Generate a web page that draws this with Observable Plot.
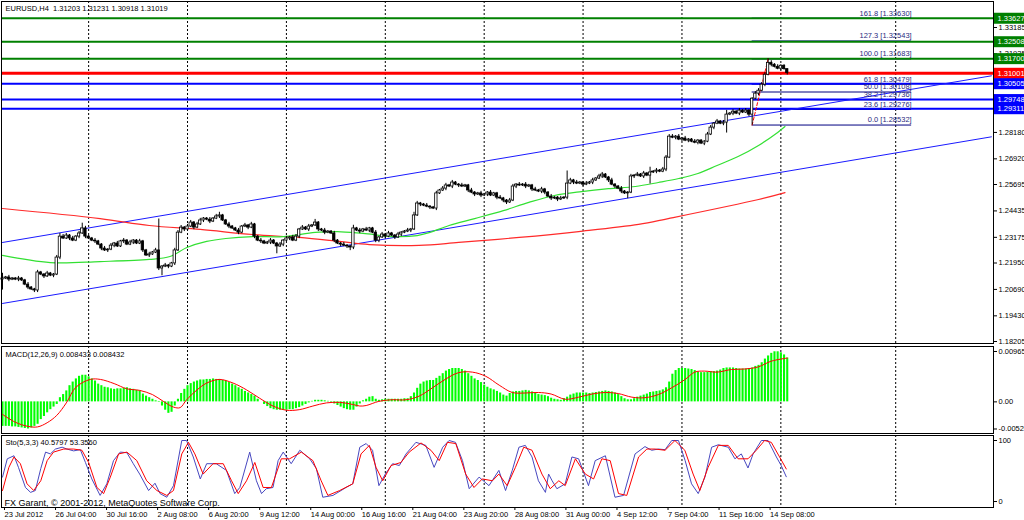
<!DOCTYPE html>
<html><head><meta charset="utf-8">
<script src="https://cdn.jsdelivr.net/npm/d3@7"></script>
<script src="https://cdn.jsdelivr.net/npm/@observablehq/plot@0.6"></script>
<style>
body{margin:0;background:#fff;}
#chart{position:relative;width:1024px;height:520px;overflow:hidden;background:#fff;}
</style></head><body><div id="chart"></div>
<script>
// ---------- DATA ----------
const title = "EURUSD,H4  1.31203 1.31231 1.30918 1.31019";
const macdTitle = "MACD(12,26,9) 0.008433 0.008432";
const stoTitle = "Sto(5,3,3) 40.5797 53.3560";
const copyright = "FX Garant, \u00a9 2001-2012, MetaQuotes Software Corp.";

const tickIdx = [0,16,32,48,64,80,96,112,128,144,160,176,192,208,224,240];
const tickLabels = ["23 Jul 2012","26 Jul 04:00","30 Jul 16:00","2 Aug 08:00","6 Aug 20:00","9 Aug 12:00","14 Aug 00:00","16 Aug 16:00","21 Aug 04:00","23 Aug 20:00","28 Aug 08:00","31 Aug 00:00","4 Sep 12:00","7 Sep 04:00","11 Sep 16:00","14 Sep 08:00"];
const gridIdx = [27,58,89,120,151,182,213,244,280];

const priceTicks = [1.18205,1.19430,1.20690,1.21950,1.23175,1.24435,1.25695,1.26920,1.28180,1.29440,1.30690,1.31935,1.33185];
const macdTicks = [0.009654,0,-0.0052];
const macdTickLabels = ["0.009654","0.00","-0.00520"];
const stoTicks = [100,0];

const firstOpen = 1.2116;
const closes = [
1.2121,1.2126,1.2116,1.2121,1.2116,1.2121,1.2112,1.2092,1.2078,1.2069,
1.2064,1.2150,1.2140,1.2131,1.2145,1.2135,1.2140,1.2221,1.2321,1.2312,
1.2326,1.2312,1.2302,1.2321,1.2336,1.2360,1.2321,1.2312,1.2302,1.2298,
1.2283,1.2264,1.2255,1.2259,1.2278,1.2288,1.2274,1.2298,1.2302,1.2283,
1.2293,1.2302,1.2288,1.2298,1.2255,1.2231,1.2236,1.2245,1.2255,1.2169,
1.2178,1.2183,1.2178,1.2193,1.2255,1.2340,1.2364,1.2355,1.2369,1.2388,
1.2364,1.2379,1.2398,1.2407,1.2402,1.2393,1.2407,1.2417,1.2422,1.2398,
1.2379,1.2369,1.2360,1.2350,1.2340,1.2369,1.2374,1.2364,1.2379,1.2321,
1.2302,1.2298,1.2288,1.2293,1.2302,1.2288,1.2274,1.2283,1.2302,1.2312,
1.2317,1.2302,1.2321,1.2355,1.2364,1.2355,1.2369,1.2374,1.2388,1.2355,
1.2350,1.2340,1.2345,1.2336,1.2302,1.2288,1.2283,1.2278,1.2274,1.2269,
1.2360,1.2350,1.2345,1.2355,1.2350,1.2360,1.2340,1.2302,1.2317,1.2331,
1.2321,1.2336,1.2326,1.2317,1.2331,1.2340,1.2345,1.2350,1.2355,1.2422,
1.2479,1.2474,1.2469,1.2464,1.2460,1.2455,1.2527,1.2541,1.2550,1.2565,
1.2560,1.2579,1.2569,1.2565,1.2560,1.2565,1.2541,1.2531,1.2522,1.2527,
1.2517,1.2522,1.2531,1.2517,1.2527,1.2507,1.2503,1.2493,1.2484,1.2493,
1.2560,1.2569,1.2565,1.2569,1.2560,1.2565,1.2546,1.2541,1.2536,1.2546,
1.2531,1.2512,1.2503,1.2507,1.2498,1.2503,1.2507,1.2574,1.2589,1.2579,
1.2574,1.2579,1.2569,1.2574,1.2579,1.2589,1.2598,1.2608,1.2617,1.2603,
1.2589,1.2569,1.2560,1.2550,1.2536,1.2527,1.2531,1.2608,1.2612,1.2617,
1.2608,1.2622,1.2612,1.2627,1.2631,1.2636,1.2631,1.2641,1.2698,1.2798,
1.2793,1.2798,1.2784,1.2789,1.2779,1.2784,1.2774,1.2769,1.2779,1.2765,
1.2774,1.2808,1.2841,1.2860,1.2870,1.2860,1.2865,1.2903,1.2908,1.2917,
1.2908,1.2922,1.2913,1.2922,1.2903,1.2979,1.3003,1.3017,1.3046,1.3093,
1.3150,1.3141,1.3131,1.3122,1.3136,1.3120,1.3102];
// wick lengths above / below the body, base-36 digits in units of WICK_UNIT
const WICK_UNIT = 0.0005;
const upWick = ["5121121121","1211211232","2121252112","1121212121","211211212u","1211222122","1221121231","1211212121","1211211212","1221212131","1211211211","3121211212","1211211213","2112112122","1211211211","2112112112","2121211212","1121121c21","2112121221","1211211212","1215121222","2121211211","1221212412","1212112222","4212110"].join("");
const downWick = ["a121121121","2212112121","1211212112","1212121121","1211212112","7121211211","2112121121","1211211212","1211217121","2112112112","1211212123","2121121221","2112121121","1211212112","1212112121","2121121221","1211212112","2121211212","1121121121","2121215121","1218121121","1212121121","2112112a12","12112a1212","1211212"].join("");

// moving averages (bar index, price)
const maFastIdx = [0,15,30.6,46,52.5,57.8,64,70,78.5,88,98,105,113,123,130,134,140,148,157,165,173,181.5,190,198.4,205.6,212,218,224,230.6,237,243,245.3];
const maFastVal = [1.2231,1.2197,1.2202,1.2212,1.2226,1.2269,1.2298,1.2312,1.2321,1.2321,1.2341,1.2345,1.2336,1.2321,1.2326,1.2341,1.2374,1.2407,1.2445,1.2484,1.2517,1.2536,1.2550,1.2560,1.2579,1.2598,1.2622,1.2660,1.2703,1.2756,1.2818,1.2846];
const maSlowIdx = [0,30.6,46,62,78.4,93,105.6,115,130.6,143,162,180.6,199.4,208.7,237,245.3];
const maSlowVal = [1.2455,1.2407,1.2374,1.2355,1.2331,1.2317,1.2298,1.2283,1.2279,1.2293,1.2317,1.2345,1.2379,1.2407,1.2498,1.2531];

// channel lines
const channelIdx = [0,310];
const channelUpper = [1.2293,1.3088];
const channelLower = [1.2002,1.2797];

// horizontal levels
const greenLevels = [1.33627,1.32508,1.31700];
const redLevels = [1.31001];
const blueLevels = [1.30505,1.29748,1.29311];

// fibonacci
const fibPct = ["0.0","23.6","38.2","50.0","61.8","100.0","127.3","161.8"];
const fibVal = [1.28532,1.29276,1.29736,1.30108,1.30479,1.31683,1.32543,1.33630];
const FIB_FROM = 235, FIB_TO = 285, FIB_HIGH_IDX = 240;

// MACD histogram (x1e-4)
const macdHist = [
-47,-47,-47,-48,-48,-49,-50,-51,-52,-50,
-47,-43,-34,-28,-21,-15,-10,-5,8,14,
21,31,38,44,49,51,51,48,44,40,
34,31,28,27,25,24,25,25,26,27,
25,24,22,21,15,11,8,5,2,-1,
-8,-16,-22,-20,-8,5,16,24,31,35,
38,40,42,42,43,43,44,43,43,41,
40,37,34,31,27,24,20,17,14,11,
5,0,-5,-9,-13,-15,-16,-16,-16,-16,
-15,-15,-13,-11,-8,-5,-2,1,3,3,
3,2,1,-1,-4,-7,-10,-13,-15,-16,
-16,-10,-4,2,5,9,10,5,3,4,
5,5,5,5,5,5,6,6,10,17,
26,34,38,40,41,41,45,49,54,59,
62,64,64,64,62,59,54,49,44,41,
37,32,28,25,23,20,17,13,11,16,
19,20,20,21,22,21,19,17,14,13,
12,10,7,5,4,3,6,9,13,15,
17,17,17,17,16,17,18,19,20,21,
20,19,17,14,10,6,4,4,6,9,
11,13,15,18,19,20,21,23,27,38,
53,60,64,64,64,63,62,60,57,56,
56,57,58,58,59,61,64,65,65,65,
64,63,63,63,64,65,68,70,75,82,
88,93,96,96,94,90,84];
// MACD signal (index, x1e-4)
const sigIdx = [0,4,8,11,14,17,20,23,27.5,30.7,35,39,43,47,50.4,53.6,55.7,57.7,61,64,68,72.3,76.5,80.6,84.8,89,93,97.3,101.5,105.7,109.8,112,114,118,122,126.5,130.6,134.8,139,143,147.3,151.5,155.7,159.8,164,168,172,176.4,180.6,184.8,189,193,197.3,201.4,205.6,209.8,214,217,220,224,228.5,232.7,236.9,241,246];
const sigVal = [-24,-39,-47,-48,-40,-26,-2,28,43,43,35,25,22,14,1,-10,-11,4,23,36,43,36,23,7,-8,-16,-15,-8,-2,-1,-5,-8,-7,1,4,4,11,27,44,56,57,49,32,18,17,18,15,5,9,15,18,16,9,8,14,27,43,57,59,57,62,63,67,78,84];

// Stochastic %K and %D
const kIdx = [0,1.5,3.6,5,7.2,8.8,10.3,12,13.5,15,16.6,18.7,20.2,22.3,24.4,26,28,30.6,32.7,34.8,36.9,39,41,43,45.8,47.8,49.4,51.5,53.6,56.2,57.7,59.8,62,64,67,70.2,72.8,74.4,77.5,79.6,81.2,82.7,84.8,86.4,88,90.5,93.2,96.3,98.4,100.4,103.6,107.7,109.8,112,114,116,118,120,122.3,124.4,126.5,129.6,132.7,135.3,138,140,142,144.2,146.3,149.4,152.5,155.6,157.7,159.8,161.9,163.9,166,168,170.2,171.2,172.3,173.8,176.4,178.5,180.6,183.7,185.8,189,192,194.7,198.3,201.4,203.5,205.6,207.7,209.8,211.9,214,216,218.1,220.2,222.3,224.4,227.5,229.6,231.6,233.7,235.3,237.9,240,242.6,244.1,245.7];
const kVal = [40,70,75,56,23,15,18,54,81,78,86,89,86,83,85,64,37,10,29,67,81,80,62,45,18,30,13,7,26,100,100,73,37,62,62,51,13,23,81,34,13,21,23,67,81,62,84,70,54,7,10,23,29,89,95,84,26,45,62,59,78,97,92,56,89,100,97,67,21,40,26,51,18,51,89,92,73,34,15,45,34,21,29,73,70,26,67,75,7,10,78,90,84,86,85,100,100,67,29,13,40,89,93,89,70,78,55,78,100,100,73,59,40.58];
const dIdx = [0,2,3.6,5.6,7.7,9.8,12,14,16,19.2,22.3,24.9,27,29.6,31.7,33.8,36.4,39,42.1,45.2,48.4,51.5,53.6,56.2,58.3,60.3,62.9,66,69.2,71.8,73.9,76.5,79.1,81.7,84.3,87.4,90,93.7,97.3,99.9,102,105.7,109.8,112.4,115,117.1,119.2,121.8,124.9,127.5,131.2,134.3,136.9,139.5,142.1,145.2,147.8,150.4,153.6,155.6,158.2,160.8,163.4,166,169.1,171.7,174.4,176.4,179.6,182.7,185.3,187.9,190.5,193.1,195.7,199.4,202,204.6,207.7,210.8,213.9,216.5,218.6,221.2,224.4,227.5,230.6,233.7,236.3,238.9,241,243.6,245.7];
const dVal = [18,56,73,62,29,18,34,67,81,86,86,84,64,23,13,40,78,81,67,34,18,10,18,78,97,78,45,62,62,34,13,34,64,23,23,70,70,81,67,34,10,18,29,78,92,56,34,59,64,81,96,84,67,97,95,45,23,37,34,45,26,56,89,84,45,21,34,26,70,45,37,70,67,13,10,73,86,86,84,100,84,45,18,56,92,92,70,70,84,100,97,73,53.36];

// ---------- LAYOUT CONSTANTS ----------
const X_MIN = -0.313, X_MAX = 310.66, X_BOX = 320.4;
const FONT = '"Liberation Sans", Arial, sans-serif';
const root = document.getElementById("chart");
function place(svg, top) {
  svg.style.position = "absolute";
  svg.style.left = "0px";
  svg.style.top = top + "px";
  svg.style.maxWidth = "none";
  root.appendChild(svg);
}
const baseStyle = {fontFamily: FONT, fontSize: "7.5px", background: "#fff", color: "#000", overflow: "visible"};

// ---------- DERIVED TABLES ----------
const candles = closes.map((c, i) => {
  const o = i === 0 ? firstOpen : closes[i - 1];
  const top = Math.max(o, c), bot = Math.min(o, c);
  return {i, o, c, h: top + parseInt(upWick[i], 36) * WICK_UNIT, l: bot - parseInt(downWick[i], 36) * WICK_UNIT};
});
const pairs = (a, b) => a.map((x, k) => ({i: x, v: b[k]}));
const maFast = pairs(maFastIdx, maFastVal);
const maSlow = pairs(maSlowIdx, maSlowVal);
const chUp = pairs(channelIdx, channelUpper);
const chLo = pairs(channelIdx, channelLower);
const fib = fibPct.map((p, k) => ({p, v: fibVal[k]}));
const fibBase = [{i: FIB_FROM, v: fibVal[0]}, {i: FIB_HIGH_IDX, v: fibVal[5]}];
const macd = macdHist.map((v, i) => ({i, v: v / 10000}));
const signal = sigIdx.map((x, k) => ({i: x, v: sigVal[k] / 10000}));
const stoK = pairs(kIdx, kVal);
const stoD = pairs(dIdx, dVal);

function levelBox(levels, color) {
  return [
    Plot.ruleY(levels, {y: d => d, x1: X_MAX, x2: X_BOX, stroke: color, strokeWidth: 11}),
    Plot.text(levels, {y: d => d, frameAnchor: "right", dx: 4, textAnchor: "start", text: d => d.toFixed(5), fill: "#fff"})
  ];
}

// ---------- MAIN PRICE PANEL ----------
const main = Plot.plot({
  width: 1024, height: 345, marginLeft: 1, marginRight: 31, marginTop: 1, marginBottom: 2,
  style: baseStyle,
  x: {domain: [X_MIN, X_MAX], axis: null},
  y: {domain: [1.1811, 1.34426], axis: null},
  marks: [
    Plot.ruleX(gridIdx, {stroke: "#000", strokeDasharray: "2,2", strokeWidth: 1}),
    Plot.ruleY(fib, {y: "v", x1: FIB_FROM, x2: FIB_TO, stroke: "#000080", strokeWidth: 1}),
    Plot.ruleY(greenLevels, {stroke: "#008000", strokeWidth: 2}),
    Plot.ruleY(blueLevels, {stroke: "#0000ff", strokeWidth: 2}),
    Plot.ruleY(redLevels, {stroke: "#ff0000", strokeWidth: 3}),
    Plot.line(chUp, {x: "i", y: "v", stroke: "#1a1aff", strokeWidth: 1}),
    Plot.line(chLo, {x: "i", y: "v", stroke: "#1a1aff", strokeWidth: 1}),
    Plot.line(maSlow, {x: "i", y: "v", stroke: "#ff2a2a", strokeWidth: 1.2, curve: "catmull-rom"}),
    Plot.line(maFast, {x: "i", y: "v", stroke: "#33e033", strokeWidth: 1.2, curve: "catmull-rom"}),
    Plot.text(fib, {x: FIB_TO, y: "v", text: d => `${d.p} [${d.v.toFixed(5)}]`, textAnchor: "end", dy: -5, fill: "#2a2a80"}),
    Plot.line(fibBase, {x: "i", y: "v", stroke: "#ff0000", strokeDasharray: "3,2", strokeWidth: 1}),
    Plot.ruleX(candles, {x: "i", y1: "l", y2: "h", stroke: "#000", strokeWidth: 1}),
    Plot.rect(candles, {x1: d => d.i - 0.37, x2: d => d.i + 0.37, y1: "o", y2: "c", fill: d => d.c >= d.o ? "#ffffff" : "#000000", stroke: "#000", strokeWidth: 0.8}),
    Plot.axisY({anchor: "right", ticks: priceTicks, tickFormat: d3.format(".5f"), tickSize: 3, tickPadding: 2, label: null}),
    ...levelBox(greenLevels, "#008000"),
    ...levelBox(redLevels, "#ff0000"),
    ...levelBox(blueLevels, "#0000ff"),
    Plot.text([title], {frameAnchor: "top-left", dx: 4, dy: 4, textAnchor: "start", fill: "#000"}),
    Plot.frame({stroke: "#000"})
  ]
});
place(main, 0);

// ---------- MACD PANEL ----------
const macdPlot = Plot.plot({
  width: 1024, height: 89, marginLeft: 1, marginRight: 31, marginTop: 1, marginBottom: 1,
  style: baseStyle,
  x: {domain: [X_MIN, X_MAX], axis: null},
  y: {domain: [-0.006064, 0.010612], axis: null},
  marks: [
    Plot.ruleX(gridIdx, {stroke: "#000", strokeDasharray: "2,2", strokeWidth: 1}),
    Plot.ruleX(macd, {x: "i", y1: 0, y2: "v", stroke: "#00ff00", strokeWidth: 2.1}),
    Plot.line(signal, {x: "i", y: "v", stroke: "#ff0000", strokeWidth: 1, curve: "catmull-rom"}),
    Plot.axisY({anchor: "right", ticks: macdTicks, tickFormat: d => macdTickLabels[macdTicks.indexOf(d)], tickSize: 3, tickPadding: 2, label: null}),
    Plot.text([macdTitle], {frameAnchor: "top-left", dx: 4, dy: 5, textAnchor: "start", fill: "#000"}),
    Plot.frame({stroke: "#000"})
  ]
});
place(macdPlot, 345);

// ---------- STOCHASTIC PANEL ----------
const stoPlot = Plot.plot({
  width: 1024, height: 86, marginLeft: 1, marginRight: 31, marginTop: 1, marginBottom: 13,
  style: baseStyle,
  x: {domain: [X_MIN, X_MAX], label: null},
  y: {domain: [-9.8, 108.2], axis: null},
  marks: [
    Plot.ruleX(gridIdx, {stroke: "#000", strokeDasharray: "2,2", strokeWidth: 1}),
    Plot.line(stoK, {x: "i", y: "v", stroke: "#4848c0", strokeWidth: 1}),
    Plot.line(stoD, {x: "i", y: "v", stroke: "#ff0000", strokeWidth: 1}),
    Plot.axisY({anchor: "right", ticks: stoTicks, tickFormat: d => String(d), tickSize: 3, tickPadding: 2, label: null}),
    Plot.axisX({anchor: "bottom", ticks: tickIdx, tickFormat: d => tickLabels[tickIdx.indexOf(d)], tickSize: 3, tickPadding: 1, textAnchor: "start", dx: 2, label: null}),
    Plot.text([stoTitle], {frameAnchor: "top-left", dx: 4, dy: 4, textAnchor: "start", fill: "#000"}),
    Plot.text([copyright], {frameAnchor: "bottom-left", dx: 3, dy: -2, textAnchor: "start", fontSize: 9, fill: "#000"}),
    Plot.frame({stroke: "#000"})
  ]
});
place(stoPlot, 434);
</script>
</body></html>
